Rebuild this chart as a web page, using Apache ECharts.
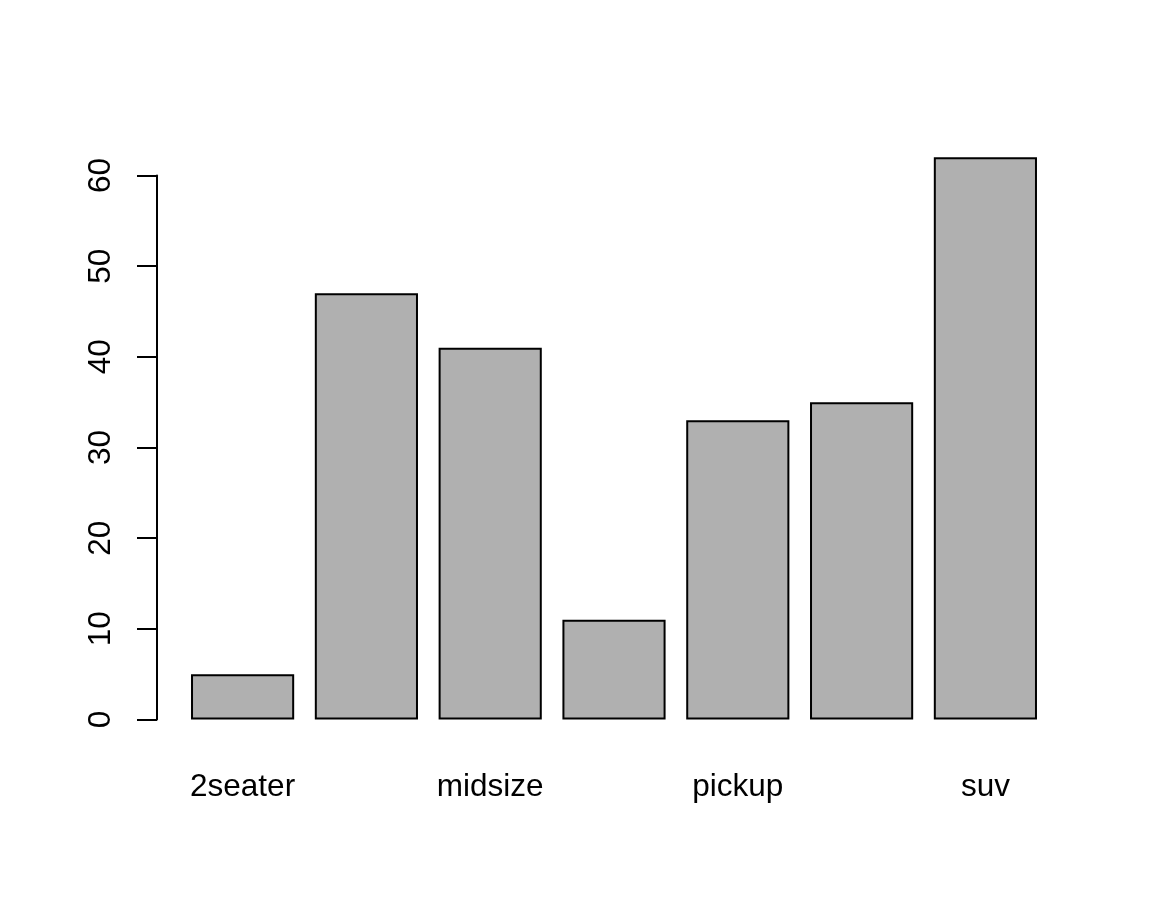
<!DOCTYPE html>
<html>
<head>
<meta charset="utf-8">
<script src="https://cdn.jsdelivr.net/npm/echarts@6/dist/echarts.min.js"></script>
<style>html,body{margin:0;padding:0;background:#fff}#c{width:1152px;height:921px}</style>
</head>
<body>
<div id="c"></div>
<script>
const categories = ['2seater','compact','midsize','minivan','pickup','subcompact','suv'];
const counts = [5, 47, 41, 11, 33, 35, 62];
const yTicks = [0, 10, 20, 30, 40, 50, 60];

const chart = echarts.init(document.getElementById('c'));
chart.setOption({
  backgroundColor: '#ffffff',
  animation: false,
  grid: { left: 180.7, right: 104.7, top: 175.5, bottom: 201.5, containLabel: false },
  xAxis: {
    type: 'category',
    data: categories,
    boundaryGap: true,
    axisLine: { show: false },
    axisTick: { show: false },
    splitLine: { show: false },
    axisLabel: {
      interval: 1,
      margin: 52,
      color: '#000',
      fontFamily: 'Liberation Sans',
      fontSize: 31.5
    }
  },
  yAxis: {
    type: 'value',
    min: yTicks[0],
    max: yTicks[yTicks.length - 1],
    interval: 10,
    offset: 23.7,
    splitLine: { show: false },
    axisLine: { show: true, lineStyle: { color: '#000', width: 2 } },
    axisTick: { show: true, length: 20, lineStyle: { color: '#000', width: 2 } },
    axisLabel: {
      rotate: 90,
      margin: 40,
      color: '#000',
      fontFamily: 'Liberation Sans',
      fontSize: 31.5
    }
  },
  series: [{
    type: 'bar',
    data: counts,
    barWidth: '83.33%',
    clip: false,
    itemStyle: { color: '#b0b0b0', borderColor: '#000', borderWidth: 2 }
  }]
});
</script>
</body>
</html>
